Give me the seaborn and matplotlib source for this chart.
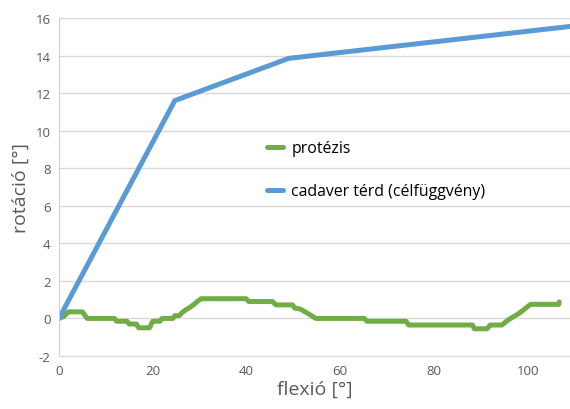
import matplotlib
matplotlib.use("Agg")
import matplotlib.pyplot as plt
import seaborn as sns
import pandas as pd

cad_x = [0, 24.7, 49, 109]
cad_y = [0, 11.6, 13.85, 15.55]

pro_x = [0, 1, 2, 5, 6, 11.8, 12.3, 14.5, 15, 16.5, 17, 19.3, 20, 21.5, 22, 24.3, 24.7, 25.7,
         26.2, 27, 28, 28.8, 29.5, 30.3, 39.9, 40.5, 45.5, 46.3, 49.8, 50.3, 51.5, 52.5, 53.5,
         54.8, 65.1, 65.7, 74, 74.6, 88.2, 88.6, 91.3, 92, 94.5, 95.2, 96, 97, 98, 98.8, 99.8,
         100.6, 106.6, 106.7]
pro_y = [0, 0.1, 0.35, 0.35, 0, 0, -0.15, -0.15, -0.3, -0.3, -0.5, -0.5, -0.15, -0.15, 0, 0,
         0.15, 0.15, 0.3, 0.45, 0.6, 0.75, 0.9, 1.05, 1.05, 0.9, 0.9, 0.72, 0.72, 0.55, 0.5,
         0.35, 0.2, 0, 0, -0.15, -0.15, -0.35, -0.35, -0.55, -0.55, -0.35, -0.35, -0.2, -0.05,
         0.1, 0.25, 0.4, 0.6, 0.75, 0.75, 0.88]

x_ticks = [0, 20, 40, 60, 80, 100]
y_ticks = [-2, 0, 2, 4, 6, 8, 10, 12, 14, 16]

sns.set_style("white")
plt.rcParams['font.family'] = ['Open Sans', 'DejaVu Sans']
plt.rcParams['axes.unicode_minus'] = False

fig = plt.figure(figsize=(5.7, 4.1), dpi=100)
ax = fig.add_axes([0.1035, 0.1293, 0.8965, 0.8244])

df_p = pd.DataFrame({"x": pro_x, "y": pro_y})
df_c = pd.DataFrame({"x": cad_x, "y": cad_y})
sns.lineplot(data=df_p, x="x", y="y", ax=ax, color="#70AD47", linewidth=3.6,
             estimator=None, sort=False, label="protézis", solid_capstyle="round")
sns.lineplot(data=df_c, x="x", y="y", ax=ax, color="#5B9BD5", linewidth=3.6,
             estimator=None, sort=False, label="cadaver térd (célfüggvény)", solid_capstyle="round")

ax.set_xlim(0, 109)
ax.set_ylim(-2, 16)
ax.set_xticks(x_ticks)
ax.set_yticks(y_ticks)
ax.tick_params(axis="both", length=0, labelsize=9.5, labelcolor="#595959", pad=6)
ax.grid(axis="y", color="#D9D9D9", linewidth=1)
ax.grid(axis="x", visible=False)
for s in ["top", "right"]:
    ax.spines[s].set_visible(False)
ax.spines["left"].set_color("#D0D0D0")
ax.spines["bottom"].set_color("#D9D9D9")
ax.set_axisbelow(True)

ax.set_xlabel("flexió [°]", fontsize=14, color="#595959", labelpad=2)
ax.set_ylabel("rotáció [°]", fontsize=14, color="#595959", labelpad=4)

ax.legend(loc="upper left", bbox_to_anchor=(0.38, 0.68), frameon=False, fontsize=11.4,
          handlelength=1.0, handletextpad=0.5, labelspacing=1.7, labelcolor="#000000")

fig.savefig("out.png", dpi=100)
